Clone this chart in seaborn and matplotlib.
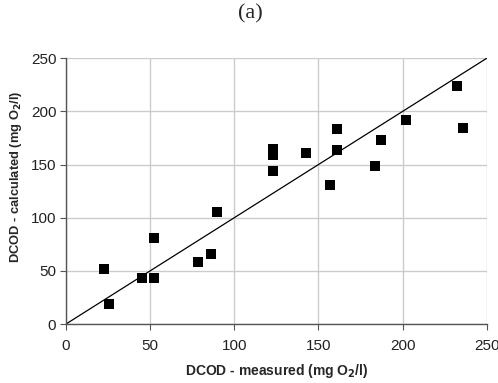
import numpy as np
import pandas as pd
import matplotlib
matplotlib.use("Agg")
import matplotlib.pyplot as plt
import seaborn as sns

# values
measured = [22.6, 25.8, 45.0, 52.2, 52.2, 78.4, 86.1, 89.9, 123.2, 123.2,
            123.2, 142.5, 157.1, 160.9, 160.9, 183.3, 187.3, 202.2, 232.1, 235.9]
calculated = [51.4, 18.8, 43.3, 43.3, 80.6, 58.6, 65.6, 105.1, 164.6, 159.3,
              143.6, 160.9, 130.5, 183.1, 163.7, 148.6, 173.1, 192.2, 223.9, 184.4]
ticks = [0, 50, 100, 150, 200, 250]

df = pd.DataFrame({"measured": measured, "calculated": calculated})

sns.set_style("white")
plt.rcParams["font.family"] = ["Liberation Sans", "DejaVu Sans"]

fig = plt.figure(figsize=(4.98, 3.83), dpi=100)
ax = fig.add_axes([0.1325, 0.154, 0.845, 0.694])

# grid lines
for t in ticks:
    ax.axvline(t, color="#cccccc", lw=1.0, zorder=0)
    ax.axhline(t, color="#cccccc", lw=1.0, zorder=0)

# 1:1 line
ax.plot([0, 250], [0, 250], color="black", lw=0.9, zorder=2)

sns.scatterplot(data=df, x="measured", y="calculated", ax=ax, marker="s",
                s=44, color="black", edgecolor="black", linewidth=0, zorder=3)

ax.set_xlim(0, 250)
ax.set_ylim(0, 250)
ax.set_xticks(ticks)
ax.set_yticks(ticks)
ax.tick_params(axis="both", labelsize=11, length=4, width=0.8, color="#555555",
               labelcolor="#222222", pad=3, left=True, bottom=True, direction="out")
ax.tick_params(axis="x", pad=7)

for side in ["top", "right"]:
    ax.spines[side].set_visible(False)
for side in ["left", "bottom"]:
    ax.spines[side].set_color("#555555")
    ax.spines[side].set_linewidth(1.0)

ax.set_xlabel(r"DCOD - measured (mg O$_\mathbf{2}$/l)", fontsize=10,
              fontweight="bold", labelpad=6)
ax.set_ylabel(r"DCOD - calculated (mg O$_\mathbf{2}$/l)", fontsize=9.3,
              fontweight="bold")
ax.yaxis.set_label_coords(-0.10, 0.553)

fig.text(0.503, 0.963, "(a)", ha="center", va="center", fontsize=16,
         family="Liberation Serif")

fig.savefig("out.png", dpi=100)
